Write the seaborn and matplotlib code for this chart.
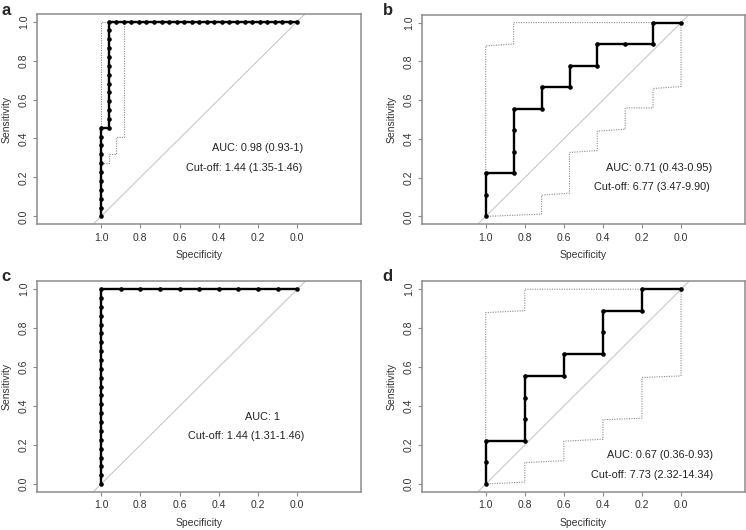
import matplotlib
matplotlib.use("Agg")
import matplotlib.pyplot as plt
import seaborn as sns

sns.set_theme(style="white")
plt.rcParams["font.family"] = ["Liberation Sans", "DejaVu Sans"]

# ---- panel a ----
spec_a = [1.0, 1.0, 1.0, 1.0, 1.0, 1.0, 1.0, 1.0, 1.0, 1.0, 1.0,
          0.962, 0.962, 0.962, 0.962, 0.962, 0.962, 0.962, 0.962, 0.962, 0.962, 0.962, 0.962, 0.962,
          0.923, 0.885, 0.846, 0.808, 0.769, 0.731, 0.692, 0.654, 0.615, 0.577, 0.538, 0.5,
          0.462, 0.423, 0.385, 0.346, 0.308, 0.269, 0.231, 0.192, 0.154, 0.115, 0.077, 0.038, 0.0]
sens_a = [0.0, 0.045, 0.091, 0.136, 0.182, 0.227, 0.273, 0.318, 0.364, 0.409, 0.455,
          0.455, 0.5, 0.545, 0.591, 0.636, 0.682, 0.727, 0.773, 0.818, 0.864, 0.909, 0.955, 1.0,
          1.0, 1.0, 1.0, 1.0, 1.0, 1.0, 1.0, 1.0, 1.0, 1.0, 1.0, 1.0,
          1.0, 1.0, 1.0, 1.0, 1.0, 1.0, 1.0, 1.0, 1.0, 1.0, 1.0, 1.0, 1.0]
ci_hi_spec_a = [1.0, 1.0, 0.0]
ci_hi_sens_a = [0.276, 1.0, 1.0]
ci_lo_spec_a = [1.0, 0.962, 0.962, 0.924, 0.924, 0.885, 0.885, 0.0]
ci_lo_sens_a = [0.276, 0.276, 0.32, 0.32, 0.41, 0.41, 1.0, 1.0]

# ---- panel b ----
spec_b = [1.0, 1.0, 1.0, 0.857, 0.857, 0.857, 0.857, 0.714, 0.714, 0.571, 0.571,
          0.429, 0.429, 0.286, 0.143, 0.143, 0.0]
sens_b = [0.0, 0.111, 0.222, 0.222, 0.333, 0.444, 0.556, 0.556, 0.667, 0.667, 0.778,
          0.778, 0.889, 0.889, 0.889, 1.0, 1.0]
ci_hi_spec_b = [1.0, 1.0, 0.857, 0.857, 0.0]
ci_hi_sens_b = [0.0, 0.88, 0.89, 1.0, 1.0]
ci_lo_spec_b = [0.0, 0.0, 0.143, 0.143, 0.286, 0.286, 0.429, 0.429, 0.571, 0.571, 0.714, 0.714, 1.0]
ci_lo_sens_b = [1.0, 0.67, 0.66, 0.56, 0.56, 0.45, 0.44, 0.34, 0.33, 0.12, 0.11, 0.012, 0.0]

# ---- panel c ----
spec_c = [1.0, 1.0, 1.0, 1.0, 1.0, 1.0, 1.0, 1.0, 1.0, 1.0, 1.0, 1.0,
          1.0, 1.0, 1.0, 1.0, 1.0, 1.0, 1.0, 1.0, 1.0, 1.0, 1.0,
          0.9, 0.8, 0.7, 0.6, 0.5, 0.4, 0.3, 0.2, 0.1, 0.0]
sens_c = [0.0, 0.045, 0.091, 0.136, 0.182, 0.227, 0.273, 0.318, 0.364, 0.409, 0.455, 0.5,
          0.545, 0.591, 0.636, 0.682, 0.727, 0.773, 0.818, 0.864, 0.909, 0.955, 1.0,
          1.0, 1.0, 1.0, 1.0, 1.0, 1.0, 1.0, 1.0, 1.0, 1.0]

# ---- panel d ----
spec_d = [1.0, 1.0, 1.0, 0.8, 0.8, 0.8, 0.8, 0.6, 0.6, 0.4, 0.4, 0.4, 0.2, 0.2, 0.0]
sens_d = [0.0, 0.111, 0.222, 0.222, 0.333, 0.444, 0.556, 0.556, 0.667, 0.667, 0.778,
          0.889, 0.889, 1.0, 1.0]
ci_hi_spec_d = [1.0, 1.0, 0.8, 0.8, 0.0]
ci_hi_sens_d = [0.0, 0.88, 0.89, 1.0, 1.0]
ci_lo_spec_d = [0.0, 0.0, 0.2, 0.2, 0.4, 0.4, 0.6, 0.6, 0.8, 0.8, 1.0]
ci_lo_sens_d = [1.0, 0.555, 0.547, 0.338, 0.33, 0.23, 0.22, 0.12, 0.11, 0.01, 0.0]

auc_texts = ["AUC: 0.98 (0.93-1)", "AUC: 0.71 (0.43-0.95)", "AUC: 1", "AUC: 0.67 (0.36-0.93)"]
cut_texts = ["Cut-off: 1.44 (1.35-1.46)", "Cut-off: 6.77 (3.47-9.90)",
             "Cut-off: 1.44 (1.31-1.46)", "Cut-off: 7.73 (2.32-14.34)"]
auc_pos = [(0.20, 0.35), (0.113, 0.25), (0.175, 0.344), (0.108, 0.149)]
cut_pos = [(0.27, 0.25), (0.151, 0.152), (0.26, 0.245), (0.15, 0.048)]
letters = ["a", "b", "c", "d"]

panels = [
    (spec_a, sens_a, [(ci_hi_spec_a, ci_hi_sens_a), (ci_lo_spec_a, ci_lo_sens_a)]),
    (spec_b, sens_b, [(ci_hi_spec_b, ci_hi_sens_b), (ci_lo_spec_b, ci_lo_sens_b)]),
    (spec_c, sens_c, []),
    (spec_d, sens_d, [(ci_hi_spec_d, ci_hi_sens_d), (ci_lo_spec_d, ci_lo_sens_d)]),
]
boxes = [[0.050, 0.577, 0.434, 0.397], [0.566, 0.577, 0.432, 0.395],
         [0.050, 0.072, 0.434, 0.397], [0.566, 0.072, 0.432, 0.397]]
letter_pos = [(0.002, 0.995), (0.513, 0.995), (0.002, 0.493), (0.513, 0.493)]

fig = plt.figure(figsize=(7.46, 5.30), dpi=100)
axis_grey = "#8c8c8c"
for i, (spec, sens, cis) in enumerate(panels):
    ax = fig.add_axes(boxes[i])
    ax.axline((1, 0), (0, 1), color="#c8c8c8", lw=0.8, zorder=1)
    for cx, cy in cis:
        ax.plot(cx, cy, color="#8a8a8a", lw=0.8, ls=(0, (1, 1.2)), zorder=2)
    sns.lineplot(x=spec, y=sens, sort=False, estimator=None, ax=ax, color="black",
                 lw=1.7, marker="o", markersize=3.3, markeredgewidth=0, zorder=3)
    ax.set_xlim(1.325, -0.325)
    ax.set_ylim(-0.04, 1.04)
    ax.set_xticks([1.0, 0.8, 0.6, 0.4, 0.2, 0.0])
    ax.set_xticklabels(["1.0", "0.8", "0.6", "0.4", "0.2", "0.0"])
    ax.set_yticks([0.0, 0.2, 0.4, 0.6, 0.8, 1.0])
    ax.set_yticklabels(["0.0", "0.2", "0.4", "0.6", "0.8", "1.0"], rotation=90, va="center")
    ax.tick_params(axis="both", direction="out", length=3, width=0.8, color=axis_grey,
                   labelsize=7.5, labelcolor="#333333", pad=3,
                   bottom=True, left=True)
    for s in ax.spines.values():
        s.set_color(axis_grey)
        s.set_linewidth(1.1)
    ax.set_xlabel("Specificity", fontsize=7.5, color="#333333", labelpad=5.5)
    ax.set_ylabel("Sensitivity", fontsize=7.5, color="#333333", labelpad=5)
    ax.text(auc_pos[i][0], auc_pos[i][1], auc_texts[i], ha="center", va="center",
            fontsize=7.8, color="#222222")
    ax.text(cut_pos[i][0], cut_pos[i][1], cut_texts[i], ha="center", va="center",
            fontsize=7.8, color="#222222")
    fig.text(letter_pos[i][0], letter_pos[i][1], letters[i], ha="left", va="top",
             fontsize=12, fontweight="bold")

fig.savefig("out.png", dpi=100)
